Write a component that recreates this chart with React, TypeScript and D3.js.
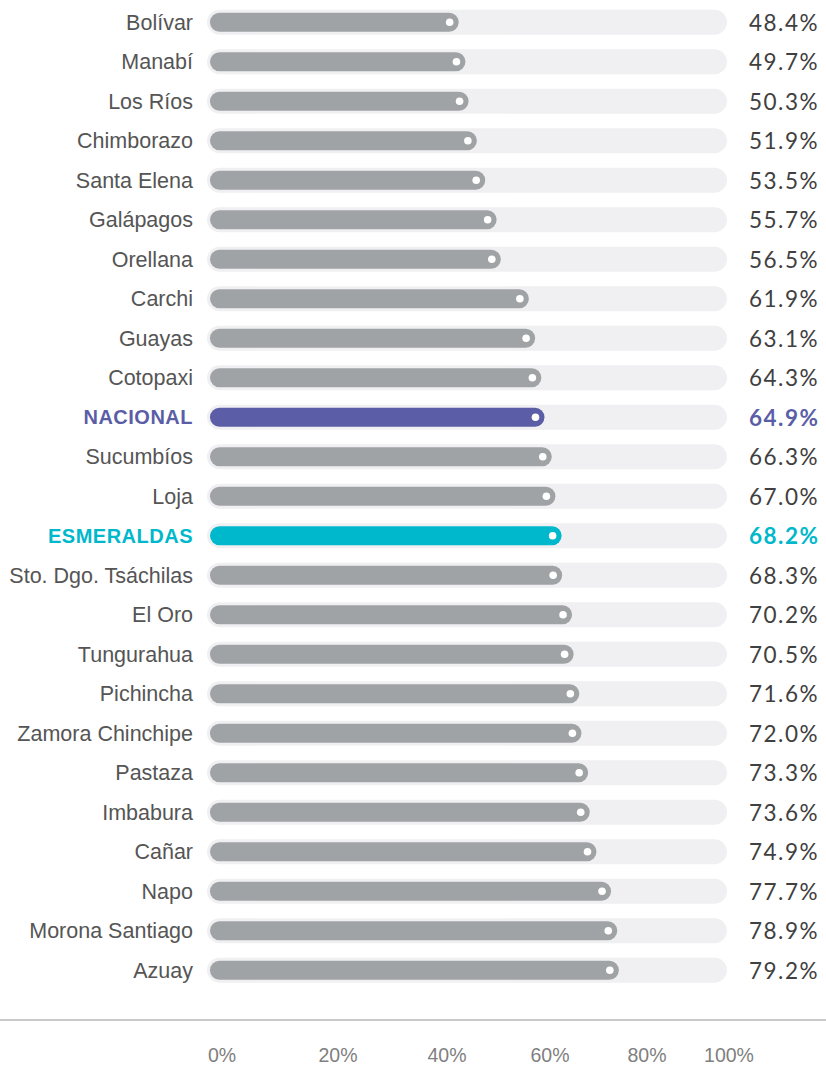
import React from "react";
import * as d3 from "d3";

const provinces = [
  "Bolívar", "Manabí", "Los Ríos", "Chimborazo", "Santa Elena", "Galápagos",
  "Orellana", "Carchi", "Guayas", "Cotopaxi", "NACIONAL", "Sucumbíos", "Loja",
  "ESMERALDAS", "Sto. Dgo. Tsáchilas", "El Oro", "Tungurahua", "Pichincha",
  "Zamora Chinchipe", "Pastaza", "Imbabura", "Cañar", "Napo",
  "Morona Santiago", "Azuay",
];
const values = [
  48.4, 49.7, 50.3, 51.9, 53.5, 55.7, 56.5, 61.9, 63.1, 64.3, 64.9, 66.3, 67.0,
  68.2, 68.3, 70.2, 70.5, 71.6, 72.0, 73.3, 73.6, 74.9, 77.7, 78.9, 79.2,
];
const highlights: Record<string, string> = {
  NACIONAL: "#5b5ea6",
  ESMERALDAS: "#00b8cc",
};
const axisTicks = [0, 20, 40, 60, 80, 100];

const width = 826;
const height = 1065;

export default function App() {
  const x = d3.scaleLinear().domain([0, 100]).range([207, 727]);
  const y = d3.scaleBand().domain(provinces).range([2.5, 990]).padding(0);
  // tick labels in the original sit on their own uneven spacing
  const axisX = d3
    .scaleLinear()
    .domain(axisTicks)
    .range([222, 338, 447, 550, 647, 729]);

  const trackH = 25;
  const barH = 19;
  const labelFont = "'Liberation Sans', Arial, sans-serif";
  const valueFont = "Lato, 'Noto Sans', sans-serif";

  return (
    <svg
      width={width}
      height={height}
      style={{ position: "absolute", left: 0, top: 0, background: "#fff" }}
    >
      {provinces.map((p, i) => {
        const cy = (y(p) ?? 0) + y.bandwidth() / 2;
        const hl = highlights[p];
        const barColor = hl || "#a0a3a6";
        const x1 = x(values[i]);
        const x0 = x(0) + 3;
        return (
          <g key={p}>
            <rect
              x={x(0)}
              y={cy - trackH / 2}
              width={x(100) - x(0)}
              height={trackH}
              rx={trackH / 2}
              fill="#f0f0f2"
            />
            <rect
              x={x0}
              y={cy - barH / 2}
              width={x1 - x0}
              height={barH}
              rx={barH / 2}
              fill={barColor}
            />
            <circle cx={x1 - 9} cy={cy} r={3.8} fill="#fff" />
            <text
              x={193}
              y={cy}
              dy="0.36em"
              textAnchor="end"
              fontFamily={labelFont}
              fontSize={hl ? 20 : 21.5}
              fontWeight={hl ? 700 : 400}
              letterSpacing={hl ? 0.5 : 0}
              fill={hl || "#555"}
            >
              {p}
            </text>
            <text
              x={749}
              y={cy}
              dy="0.38em"
              fontFamily={valueFont}
              fontSize={22.5}
              fontWeight={hl ? 700 : 400}
              letterSpacing={1.5}
              fill={hl || "#404040"}
            >
              {values[i].toFixed(1) + "%"}
            </text>
          </g>
        );
      })}
      <line x1={0} x2={width} y1={1020} y2={1020} stroke="#c8c9cb" strokeWidth={2} />
      {axisTicks.map((t) => (
        <text
          key={t}
          x={axisX(t)}
          y={1062}
          textAnchor="middle"
          fontFamily={labelFont}
          fontSize={19.5}
          fill="#808080"
        >
          {t + "%"}
        </text>
      ))}
    </svg>
  );
}
